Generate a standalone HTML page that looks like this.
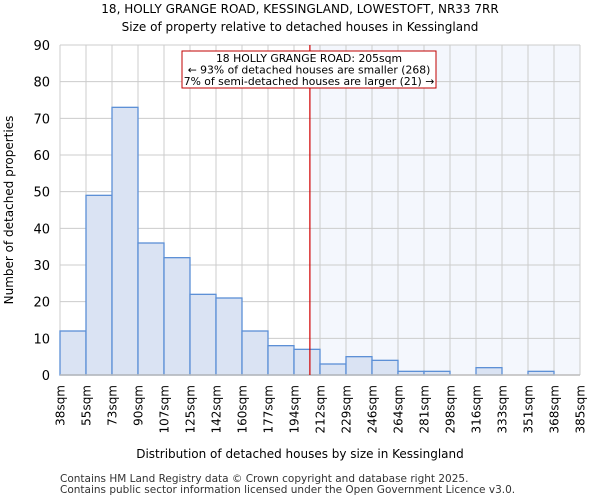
<!DOCTYPE html>
<html><head><meta charset="utf-8"><style>
body{margin:0;background:#fff;font-family:"DejaVu Sans","Liberation Sans",sans-serif}
</style></head><body>
<svg id="c" width="600" height="500" xmlns="http://www.w3.org/2000/svg" font-family="DejaVu Sans, Liberation Sans, sans-serif">
<text x="300" y="13" text-anchor="middle" font-size="12">18, HOLLY GRANGE ROAD, KESSINGLAND, LOWESTOFT, NR33 7RR</text>
<text x="300" y="31" text-anchor="middle" font-size="12">Size of property relative to detached houses in Kessingland</text>
<g id="plot"></g>
<text x="300" y="458" text-anchor="middle" font-size="12">Distribution of detached houses by size in Kessingland</text>
<text transform="translate(13,210) rotate(-90)" text-anchor="middle" font-size="12">Number of detached properties</text>
<text x="60" y="482" font-size="10.5" fill="#333">Contains HM Land Registry data © Crown copyright and database right 2025.</text>
<text x="60" y="493" font-size="10.5" fill="#333">Contains public sector information licensed under the Open Government Licence v3.0.</text>
</svg>
<script>
const categories=["38sqm","55sqm","73sqm","90sqm","107sqm","125sqm","142sqm","160sqm","177sqm","194sqm","212sqm","229sqm","246sqm","264sqm","281sqm","298sqm","316sqm","333sqm","351sqm","368sqm","385sqm"];
const counts=[12,49,73,36,32,22,21,12,8,7,3,5,4,1,1,0,2,0,1,0];
const yTicks=[0,10,20,30,40,50,60,70,80,90];
const binEdges=[38,55,73,90,107,125,142,160,177,194,212,229,246,264,281,298,316,333,351,368,385];
const propertySize=205;
const NS="http://www.w3.org/2000/svg";
const g=document.getElementById('plot');
const X0=60,X1=580,Y0=375,Y1=45,yMax=90;
const n=counts.length,bw=(X1-X0)/n;
const xi=i=>X0+i*bw;
const y=v=>Y0-(v/yMax)*(Y0-Y1);
function xv(v){for(let i=0;i<binEdges.length-1;i++){if(v<=binEdges[i+1])return xi(i)+(v-binEdges[i])/(binEdges[i+1]-binEdges[i])*bw;}return X1;}
function mk(t,a){const e=document.createElementNS(NS,t);for(const k in a)e.setAttribute(k,a[k]);g.appendChild(e);return e;}
const px=xv(propertySize);
let e=mk('rect',{x:px,y:Y1,width:X1-px,height:Y0-Y1,fill:'#f4f7fd'});


yTicks.forEach(t=>{const l=mk('line',{x1:X0,x2:X1,y1:y(t),y2:y(t),stroke:'#cccccc'});


const tx=mk('text',{x:X0-10,y:y(t)+5,'text-anchor':'end','font-size':13});tx.textContent=t;

});
categories.forEach((c,i)=>{const l=mk('line',{x1:xi(i),x2:xi(i),y1:Y1,y2:Y0,stroke:'#cccccc'});


const tx=mk('text',{transform:`translate(${xi(i)+4.5},${Y0+10}) rotate(-90)`,'text-anchor':'end','font-size':12});tx.textContent=c;

});
counts.forEach((v,i)=>{if(v<=0)return;const r=mk('rect',{x:xi(i),y:y(v),width:bw,height:Y0-y(v),fill:'#dae3f3',stroke:'#5b8fd6','stroke-width':1.3});

});
e=mk('line',{x1:X0,x2:X1,y1:Y0,y2:Y0,stroke:'#bbbbbb','stroke-width':1.5});


e=mk('line',{x1:px,x2:px,y1:Y1,y2:Y0,stroke:'#d00000','stroke-width':1.2});


e=mk('rect',{x:182,y:51,width:254,height:37,fill:'#fff',stroke:'#c00000','stroke-width':1});


["18 HOLLY GRANGE ROAD: 205sqm","← 93% of detached houses are smaller (268)","7% of semi-detached houses are larger (21) →"].forEach((s,k)=>{const t=mk('text',{x:309,y:62+k*11.5,'text-anchor':'middle','font-size':10.8});t.textContent=s;

});
</script>
</body></html>
